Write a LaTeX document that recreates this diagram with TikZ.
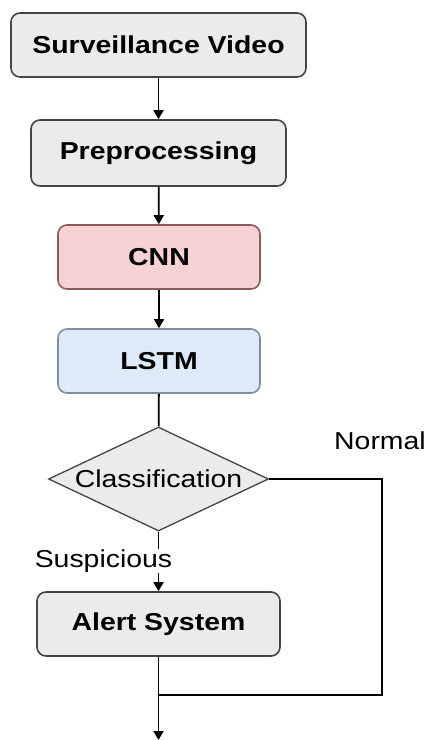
\documentclass[tikz,border=0pt]{standalone}
\usepackage{fontspec}
\setmainfont[FakeStretch=1.16]{Liberation Sans}
\usetikzlibrary{shapes.geometric,arrows.meta}
\definecolor{grayfill}{HTML}{EBEBEB}
\definecolor{grayline}{HTML}{444444}
\definecolor{cnnfill}{HTML}{F6D2D3}
\definecolor{cnnline}{HTML}{8E5A5C}
\definecolor{lstmfill}{HTML}{DDEBF9}
\definecolor{lstmline}{HTML}{7E8E9E}
\tikzset{
  x=1pt, y=-1pt,
  box/.style={draw=grayline, fill=grayfill, line width=1.6pt, rounded corners=9pt,
    inner sep=0pt, font=\fontsize{24.5}{28}\selectfont\bfseries},
  link/.style={line width=1.8pt, draw=black},
  arr/.style={link, -{Triangle[length=9pt,width=10pt]}},
  lbl/.style={font=\fontsize{24.5}{28}\selectfont, inner sep=0pt}
}
\begin{document}
\begin{tikzpicture}
\useasboundingbox (0,0) rectangle (429,740);
\node[box, minimum width=295pt, minimum height=64pt] (video) at (158.5,45) {Surveillance Video};
\node[box, minimum width=255pt, minimum height=66pt] (pre) at (158.5,153) {Preprocessing};
\node[box, draw=cnnline, fill=cnnfill, minimum width=202pt, minimum height=64pt] (cnn) at (159,257) {CNN};
\node[box, draw=lstmline, fill=lstmfill, minimum width=202pt, minimum height=64pt] (lstm) at (159,361) {LSTM};
\node[diamond, draw=grayline, fill=grayfill, line width=1.3pt, minimum width=220pt, minimum height=104pt,
  inner sep=0pt, aspect=2.1, font=\fontsize{24.5}{28}\selectfont] (cls) at (158.5,479) {Classification};
\node[box, minimum width=243pt, minimum height=64pt] (alert) at (158.5,624) {Alert System};
\coordinate (nr) at (382,479);
\coordinate (nb) at (382,695);
\coordinate (join) at (158.5,695);
\coordinate (end) at (158.5,740);

\draw[arr] (video) -- (pre);
\draw[arr] (pre) -- (cnn);
\draw[arr] (cnn) -- (lstm);
\draw[link] (lstm) -- (cls);
\draw[arr] (cls) -- (alert);
\node[lbl, fill=white, inner sep=1pt] (susp) at (103.5,561) {Suspicious};
\draw[link] (cls.east) -- (nr) -- (nb) -- (join);
\draw[arr] (alert) -- (end);
\node[lbl, anchor=west] (normal) at (334,441) {Normal};
\end{tikzpicture}
\end{document}
